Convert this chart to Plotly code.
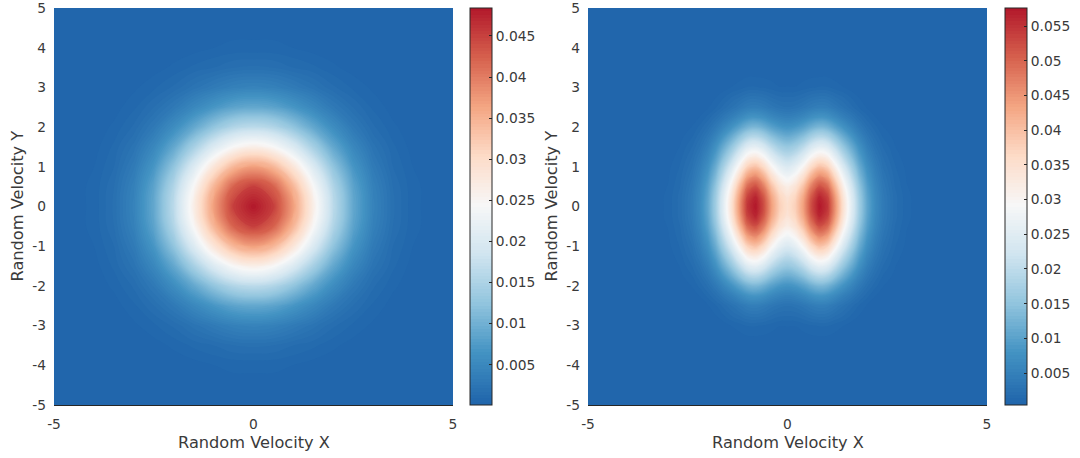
import plotly.graph_objects as go

# ---------------- data ----------------
# Left panel grid (velocity coordinates)
left_coords = [-5, -4, -3.5, -3, -2.5, -2, -1.5, -1, -0.5, 0, 0.5, 1, 1.5, 2, 2.5, 3, 3.5, 4, 5]
# rows ordered from y=-5 (bottom) to y=5 (top)
left_z = [
    [0.0001, 0.0001, 0.0001, 0.0001, 0.0001, 0.0001, 0.0001, 0.0001, 0.0001, 0.0001, 0.0001, 0.0001, 0.0001, 0.0001, 0.0001, 0.0001, 0.0001, 0.0001, 0.0001],
    [0.0001, 0.0001, 0.0001, 0.0001, 0.0001, 0.0002, 0.0003, 0.0005, 0.0006, 0.0006, 0.0006, 0.0005, 0.0003, 0.0002, 0.0001, 0.0001, 0.0001, 0.0001, 0.0001],
    [0.0001, 0.0001, 0.0001, 0.0002, 0.0003, 0.0006, 0.0010, 0.0013, 0.0017, 0.0018, 0.0017, 0.0013, 0.0010, 0.0006, 0.0003, 0.0002, 0.0001, 0.0001, 0.0001],
    [0.0001, 0.0001, 0.0002, 0.0004, 0.0008, 0.0014, 0.0023, 0.0032, 0.0040, 0.0043, 0.0040, 0.0032, 0.0023, 0.0014, 0.0008, 0.0004, 0.0002, 0.0001, 0.0001],
    [0.0001, 0.0001, 0.0003, 0.0008, 0.0017, 0.0030, 0.0049, 0.0068, 0.0084, 0.0089, 0.0084, 0.0068, 0.0049, 0.0030, 0.0017, 0.0008, 0.0003, 0.0001, 0.0001],
    [0.0001, 0.0002, 0.0006, 0.0014, 0.0030, 0.0056, 0.0089, 0.0125, 0.0154, 0.0164, 0.0154, 0.0125, 0.0089, 0.0056, 0.0030, 0.0014, 0.0006, 0.0002, 0.0001],
    [0.0001, 0.0003, 0.0010, 0.0023, 0.0049, 0.0089, 0.0144, 0.0201, 0.0246, 0.0264, 0.0246, 0.0201, 0.0144, 0.0089, 0.0049, 0.0023, 0.0010, 0.0003, 0.0001],
    [0.0001, 0.0005, 0.0013, 0.0032, 0.0068, 0.0125, 0.0201, 0.0282, 0.0345, 0.0369, 0.0345, 0.0282, 0.0201, 0.0125, 0.0068, 0.0032, 0.0013, 0.0005, 0.0001],
    [0.0001, 0.0006, 0.0017, 0.0040, 0.0084, 0.0154, 0.0246, 0.0345, 0.0423, 0.0452, 0.0423, 0.0345, 0.0246, 0.0154, 0.0084, 0.0040, 0.0017, 0.0006, 0.0001],
    [0.0001, 0.0006, 0.0018, 0.0043, 0.0089, 0.0164, 0.0264, 0.0369, 0.0452, 0.0484, 0.0452, 0.0369, 0.0264, 0.0164, 0.0089, 0.0043, 0.0018, 0.0006, 0.0001],
    [0.0001, 0.0006, 0.0017, 0.0040, 0.0084, 0.0154, 0.0246, 0.0345, 0.0423, 0.0452, 0.0423, 0.0345, 0.0246, 0.0154, 0.0084, 0.0040, 0.0017, 0.0006, 0.0001],
    [0.0001, 0.0005, 0.0013, 0.0032, 0.0068, 0.0125, 0.0201, 0.0282, 0.0345, 0.0369, 0.0345, 0.0282, 0.0201, 0.0125, 0.0068, 0.0032, 0.0013, 0.0005, 0.0001],
    [0.0001, 0.0003, 0.0010, 0.0023, 0.0049, 0.0089, 0.0144, 0.0201, 0.0246, 0.0264, 0.0246, 0.0201, 0.0144, 0.0089, 0.0049, 0.0023, 0.0010, 0.0003, 0.0001],
    [0.0001, 0.0002, 0.0006, 0.0014, 0.0030, 0.0056, 0.0089, 0.0125, 0.0154, 0.0164, 0.0154, 0.0125, 0.0089, 0.0056, 0.0030, 0.0014, 0.0006, 0.0002, 0.0001],
    [0.0001, 0.0001, 0.0003, 0.0008, 0.0017, 0.0030, 0.0049, 0.0068, 0.0084, 0.0089, 0.0084, 0.0068, 0.0049, 0.0030, 0.0017, 0.0008, 0.0003, 0.0001, 0.0001],
    [0.0001, 0.0001, 0.0002, 0.0004, 0.0008, 0.0014, 0.0023, 0.0032, 0.0040, 0.0043, 0.0040, 0.0032, 0.0023, 0.0014, 0.0008, 0.0004, 0.0002, 0.0001, 0.0001],
    [0.0001, 0.0001, 0.0001, 0.0002, 0.0003, 0.0006, 0.0010, 0.0013, 0.0017, 0.0018, 0.0017, 0.0013, 0.0010, 0.0006, 0.0003, 0.0002, 0.0001, 0.0001, 0.0001],
    [0.0001, 0.0001, 0.0001, 0.0001, 0.0001, 0.0002, 0.0003, 0.0005, 0.0006, 0.0006, 0.0006, 0.0005, 0.0003, 0.0002, 0.0001, 0.0001, 0.0001, 0.0001, 0.0001],
    [0.0001, 0.0001, 0.0001, 0.0001, 0.0001, 0.0001, 0.0001, 0.0001, 0.0001, 0.0001, 0.0001, 0.0001, 0.0001, 0.0001, 0.0001, 0.0001, 0.0001, 0.0001, 0.0001],
]

# Right panel grid
right_x = [-5, -4, -3.5, -3, -2.7, -2.4, -2.2, -2, -1.8, -1.6, -1.4, -1.2, -1, -0.8, -0.6, -0.4, -0.2, 0,
           0.2, 0.4, 0.6, 0.8, 1, 1.2, 1.4, 1.6, 1.8, 2, 2.2, 2.4, 2.7, 3, 3.5, 4, 5]
right_y = [-5, -4, -3.5, -3, -2.5, -2.25, -2, -1.75, -1.5, -1.25, -1, -0.75, -0.5, -0.25, 0,
           0.25, 0.5, 0.75, 1, 1.25, 1.5, 1.75, 2, 2.25, 2.5, 3, 3.5, 4, 5]
right_z = [
    [0.0004, 0.0004, 0.0004, 0.0004, 0.0004, 0.0004, 0.0004, 0.0004, 0.0004, 0.0004, 0.0004, 0.0004, 0.0004, 0.0004, 0.0004, 0.0004, 0.0004, 0.0004, 0.0004, 0.0004, 0.0004, 0.0004, 0.0004, 0.0004, 0.0004, 0.0004, 0.0004, 0.0004, 0.0004, 0.0004, 0.0004, 0.0004, 0.0004, 0.0004, 0.0004],
    [0.0004, 0.0004, 0.0004, 0.0004, 0.0004, 0.0004, 0.0004, 0.0004, 0.0004, 0.0004, 0.0004, 0.0004, 0.0004, 0.0004, 0.0004, 0.0004, 0.0004, 0.0004, 0.0004, 0.0004, 0.0004, 0.0004, 0.0004, 0.0004, 0.0004, 0.0004, 0.0004, 0.0004, 0.0004, 0.0004, 0.0004, 0.0004, 0.0004, 0.0004, 0.0004],
    [0.0004, 0.0004, 0.0004, 0.0004, 0.0004, 0.0004, 0.0004, 0.0004, 0.0004, 0.0004, 0.0004, 0.0004, 0.0004, 0.0004, 0.0004, 0.0004, 0.0004, 0.0004, 0.0004, 0.0004, 0.0004, 0.0004, 0.0004, 0.0004, 0.0004, 0.0004, 0.0004, 0.0004, 0.0004, 0.0004, 0.0004, 0.0004, 0.0004, 0.0004, 0.0004],
    [0.0004, 0.0004, 0.0004, 0.0004, 0.0004, 0.0004, 0.0004, 0.0004, 0.0004, 0.0006, 0.0009, 0.0011, 0.0014, 0.0014, 0.0013, 0.0011, 0.0009, 0.0009, 0.0009, 0.0011, 0.0013, 0.0014, 0.0014, 0.0011, 0.0009, 0.0006, 0.0004, 0.0004, 0.0004, 0.0004, 0.0004, 0.0004, 0.0004, 0.0004, 0.0004],
    [0.0004, 0.0004, 0.0004, 0.0004, 0.0004, 0.0004, 0.0005, 0.0008, 0.0013, 0.0020, 0.0028, 0.0036, 0.0044, 0.0046, 0.0042, 0.0035, 0.0030, 0.0028, 0.0030, 0.0035, 0.0042, 0.0046, 0.0044, 0.0036, 0.0028, 0.0020, 0.0013, 0.0008, 0.0005, 0.0004, 0.0004, 0.0004, 0.0004, 0.0004, 0.0004],
    [0.0004, 0.0004, 0.0004, 0.0004, 0.0004, 0.0006, 0.0009, 0.0015, 0.0024, 0.0036, 0.0048, 0.0063, 0.0077, 0.0081, 0.0074, 0.0062, 0.0053, 0.0049, 0.0053, 0.0062, 0.0074, 0.0081, 0.0077, 0.0063, 0.0048, 0.0036, 0.0024, 0.0015, 0.0009, 0.0006, 0.0004, 0.0004, 0.0004, 0.0004, 0.0004],
    [0.0004, 0.0004, 0.0004, 0.0004, 0.0005, 0.0009, 0.0015, 0.0024, 0.0038, 0.0057, 0.0078, 0.0101, 0.0123, 0.0130, 0.0118, 0.0099, 0.0085, 0.0079, 0.0085, 0.0099, 0.0118, 0.0130, 0.0123, 0.0101, 0.0078, 0.0057, 0.0038, 0.0024, 0.0015, 0.0009, 0.0005, 0.0004, 0.0004, 0.0004, 0.0004],
    [0.0004, 0.0004, 0.0004, 0.0004, 0.0007, 0.0013, 0.0022, 0.0035, 0.0056, 0.0085, 0.0116, 0.0151, 0.0184, 0.0193, 0.0176, 0.0147, 0.0127, 0.0117, 0.0127, 0.0147, 0.0176, 0.0193, 0.0184, 0.0151, 0.0116, 0.0085, 0.0056, 0.0035, 0.0022, 0.0013, 0.0007, 0.0004, 0.0004, 0.0004, 0.0004],
    [0.0004, 0.0004, 0.0004, 0.0005, 0.0009, 0.0018, 0.0029, 0.0047, 0.0076, 0.0115, 0.0155, 0.0203, 0.0247, 0.0259, 0.0236, 0.0198, 0.0170, 0.0158, 0.0170, 0.0198, 0.0236, 0.0259, 0.0247, 0.0203, 0.0155, 0.0115, 0.0076, 0.0047, 0.0029, 0.0018, 0.0009, 0.0005, 0.0004, 0.0004, 0.0004],
    [0.0004, 0.0004, 0.0004, 0.0006, 0.0011, 0.0023, 0.0037, 0.0059, 0.0095, 0.0144, 0.0195, 0.0254, 0.0310, 0.0325, 0.0297, 0.0249, 0.0214, 0.0198, 0.0214, 0.0249, 0.0297, 0.0325, 0.0310, 0.0254, 0.0195, 0.0144, 0.0095, 0.0059, 0.0037, 0.0023, 0.0011, 0.0006, 0.0004, 0.0004, 0.0004],
    [0.0004, 0.0004, 0.0004, 0.0007, 0.0014, 0.0027, 0.0045, 0.0072, 0.0115, 0.0175, 0.0236, 0.0308, 0.0375, 0.0395, 0.0360, 0.0301, 0.0259, 0.0240, 0.0259, 0.0301, 0.0360, 0.0395, 0.0375, 0.0308, 0.0236, 0.0175, 0.0115, 0.0072, 0.0045, 0.0027, 0.0014, 0.0007, 0.0004, 0.0004, 0.0004],
    [0.0004, 0.0004, 0.0004, 0.0008, 0.0016, 0.0032, 0.0052, 0.0084, 0.0134, 0.0204, 0.0276, 0.0360, 0.0438, 0.0461, 0.0420, 0.0352, 0.0302, 0.0280, 0.0302, 0.0352, 0.0420, 0.0461, 0.0438, 0.0360, 0.0276, 0.0204, 0.0134, 0.0084, 0.0052, 0.0032, 0.0016, 0.0008, 0.0004, 0.0004, 0.0004],
    [0.0004, 0.0004, 0.0004, 0.0009, 0.0018, 0.0036, 0.0059, 0.0095, 0.0152, 0.0231, 0.0312, 0.0407, 0.0496, 0.0521, 0.0475, 0.0398, 0.0342, 0.0317, 0.0342, 0.0398, 0.0475, 0.0521, 0.0496, 0.0407, 0.0312, 0.0231, 0.0152, 0.0095, 0.0059, 0.0036, 0.0018, 0.0009, 0.0004, 0.0004, 0.0004],
    [0.0004, 0.0004, 0.0004, 0.0010, 0.0020, 0.0039, 0.0063, 0.0102, 0.0164, 0.0249, 0.0336, 0.0439, 0.0534, 0.0562, 0.0512, 0.0429, 0.0369, 0.0341, 0.0369, 0.0429, 0.0512, 0.0562, 0.0534, 0.0439, 0.0336, 0.0249, 0.0164, 0.0102, 0.0063, 0.0039, 0.0020, 0.0010, 0.0004, 0.0004, 0.0004],
    [0.0004, 0.0004, 0.0004, 0.0010, 0.0020, 0.0040, 0.0065, 0.0105, 0.0168, 0.0255, 0.0345, 0.0450, 0.0548, 0.0576, 0.0525, 0.0440, 0.0378, 0.0350, 0.0378, 0.0440, 0.0525, 0.0576, 0.0548, 0.0450, 0.0345, 0.0255, 0.0168, 0.0105, 0.0065, 0.0040, 0.0020, 0.0010, 0.0004, 0.0004, 0.0004],
    [0.0004, 0.0004, 0.0004, 0.0010, 0.0020, 0.0039, 0.0063, 0.0102, 0.0164, 0.0249, 0.0336, 0.0439, 0.0534, 0.0562, 0.0512, 0.0429, 0.0369, 0.0341, 0.0369, 0.0429, 0.0512, 0.0562, 0.0534, 0.0439, 0.0336, 0.0249, 0.0164, 0.0102, 0.0063, 0.0039, 0.0020, 0.0010, 0.0004, 0.0004, 0.0004],
    [0.0004, 0.0004, 0.0004, 0.0009, 0.0018, 0.0036, 0.0059, 0.0095, 0.0152, 0.0231, 0.0312, 0.0407, 0.0496, 0.0521, 0.0475, 0.0398, 0.0342, 0.0317, 0.0342, 0.0398, 0.0475, 0.0521, 0.0496, 0.0407, 0.0312, 0.0231, 0.0152, 0.0095, 0.0059, 0.0036, 0.0018, 0.0009, 0.0004, 0.0004, 0.0004],
    [0.0004, 0.0004, 0.0004, 0.0008, 0.0016, 0.0032, 0.0052, 0.0084, 0.0134, 0.0204, 0.0276, 0.0360, 0.0438, 0.0461, 0.0420, 0.0352, 0.0302, 0.0280, 0.0302, 0.0352, 0.0420, 0.0461, 0.0438, 0.0360, 0.0276, 0.0204, 0.0134, 0.0084, 0.0052, 0.0032, 0.0016, 0.0008, 0.0004, 0.0004, 0.0004],
    [0.0004, 0.0004, 0.0004, 0.0007, 0.0014, 0.0027, 0.0045, 0.0072, 0.0115, 0.0175, 0.0236, 0.0308, 0.0375, 0.0395, 0.0360, 0.0301, 0.0259, 0.0240, 0.0259, 0.0301, 0.0360, 0.0395, 0.0375, 0.0308, 0.0236, 0.0175, 0.0115, 0.0072, 0.0045, 0.0027, 0.0014, 0.0007, 0.0004, 0.0004, 0.0004],
    [0.0004, 0.0004, 0.0004, 0.0006, 0.0011, 0.0023, 0.0037, 0.0059, 0.0095, 0.0144, 0.0195, 0.0254, 0.0310, 0.0325, 0.0297, 0.0249, 0.0214, 0.0198, 0.0214, 0.0249, 0.0297, 0.0325, 0.0310, 0.0254, 0.0195, 0.0144, 0.0095, 0.0059, 0.0037, 0.0023, 0.0011, 0.0006, 0.0004, 0.0004, 0.0004],
    [0.0004, 0.0004, 0.0004, 0.0005, 0.0009, 0.0018, 0.0029, 0.0047, 0.0076, 0.0115, 0.0155, 0.0203, 0.0247, 0.0259, 0.0236, 0.0198, 0.0170, 0.0158, 0.0170, 0.0198, 0.0236, 0.0259, 0.0247, 0.0203, 0.0155, 0.0115, 0.0076, 0.0047, 0.0029, 0.0018, 0.0009, 0.0005, 0.0004, 0.0004, 0.0004],
    [0.0004, 0.0004, 0.0004, 0.0004, 0.0007, 0.0013, 0.0022, 0.0035, 0.0056, 0.0085, 0.0116, 0.0151, 0.0184, 0.0193, 0.0176, 0.0147, 0.0127, 0.0117, 0.0127, 0.0147, 0.0176, 0.0193, 0.0184, 0.0151, 0.0116, 0.0085, 0.0056, 0.0035, 0.0022, 0.0013, 0.0007, 0.0004, 0.0004, 0.0004, 0.0004],
    [0.0004, 0.0004, 0.0004, 0.0004, 0.0005, 0.0009, 0.0015, 0.0024, 0.0038, 0.0057, 0.0078, 0.0101, 0.0123, 0.0130, 0.0118, 0.0099, 0.0085, 0.0079, 0.0085, 0.0099, 0.0118, 0.0130, 0.0123, 0.0101, 0.0078, 0.0057, 0.0038, 0.0024, 0.0015, 0.0009, 0.0005, 0.0004, 0.0004, 0.0004, 0.0004],
    [0.0004, 0.0004, 0.0004, 0.0004, 0.0004, 0.0006, 0.0009, 0.0015, 0.0024, 0.0036, 0.0048, 0.0063, 0.0077, 0.0081, 0.0074, 0.0062, 0.0053, 0.0049, 0.0053, 0.0062, 0.0074, 0.0081, 0.0077, 0.0063, 0.0048, 0.0036, 0.0024, 0.0015, 0.0009, 0.0006, 0.0004, 0.0004, 0.0004, 0.0004, 0.0004],
    [0.0004, 0.0004, 0.0004, 0.0004, 0.0004, 0.0004, 0.0005, 0.0008, 0.0013, 0.0020, 0.0028, 0.0036, 0.0044, 0.0046, 0.0042, 0.0035, 0.0030, 0.0028, 0.0030, 0.0035, 0.0042, 0.0046, 0.0044, 0.0036, 0.0028, 0.0020, 0.0013, 0.0008, 0.0005, 0.0004, 0.0004, 0.0004, 0.0004, 0.0004, 0.0004],
    [0.0004, 0.0004, 0.0004, 0.0004, 0.0004, 0.0004, 0.0004, 0.0004, 0.0004, 0.0006, 0.0009, 0.0011, 0.0014, 0.0014, 0.0013, 0.0011, 0.0009, 0.0009, 0.0009, 0.0011, 0.0013, 0.0014, 0.0014, 0.0011, 0.0009, 0.0006, 0.0004, 0.0004, 0.0004, 0.0004, 0.0004, 0.0004, 0.0004, 0.0004, 0.0004],
    [0.0004, 0.0004, 0.0004, 0.0004, 0.0004, 0.0004, 0.0004, 0.0004, 0.0004, 0.0004, 0.0004, 0.0004, 0.0004, 0.0004, 0.0004, 0.0004, 0.0004, 0.0004, 0.0004, 0.0004, 0.0004, 0.0004, 0.0004, 0.0004, 0.0004, 0.0004, 0.0004, 0.0004, 0.0004, 0.0004, 0.0004, 0.0004, 0.0004, 0.0004, 0.0004],
    [0.0004, 0.0004, 0.0004, 0.0004, 0.0004, 0.0004, 0.0004, 0.0004, 0.0004, 0.0004, 0.0004, 0.0004, 0.0004, 0.0004, 0.0004, 0.0004, 0.0004, 0.0004, 0.0004, 0.0004, 0.0004, 0.0004, 0.0004, 0.0004, 0.0004, 0.0004, 0.0004, 0.0004, 0.0004, 0.0004, 0.0004, 0.0004, 0.0004, 0.0004, 0.0004],
    [0.0004, 0.0004, 0.0004, 0.0004, 0.0004, 0.0004, 0.0004, 0.0004, 0.0004, 0.0004, 0.0004, 0.0004, 0.0004, 0.0004, 0.0004, 0.0004, 0.0004, 0.0004, 0.0004, 0.0004, 0.0004, 0.0004, 0.0004, 0.0004, 0.0004, 0.0004, 0.0004, 0.0004, 0.0004, 0.0004, 0.0004, 0.0004, 0.0004, 0.0004, 0.0004],
]

# Axis ticks
x_tickvals = [-5, 0, 5]
x_ticktext = ["-5", "0", "5"]
y_tickvals = [-5, -4, -3, -2, -1, 0, 1, 2, 3, 4, 5]
y_ticktext = ["-5", "-4", "-3", "-2", "-1", "0", "1", "2", "3", "4", "5"]

left_cb_vals = [0.005, 0.01, 0.015, 0.02, 0.025, 0.03, 0.035, 0.04, 0.045]
left_cb_text = ["0.005", "0.01", "0.015", "0.02", "0.025", "0.03", "0.035", "0.04", "0.045"]
right_cb_vals = [0.005, 0.01, 0.015, 0.02, 0.025, 0.03, 0.035, 0.04, 0.045, 0.05, 0.055]
right_cb_text = ["0.005", "0.01", "0.015", "0.02", "0.025", "0.03", "0.035", "0.04", "0.045", "0.05", "0.055"]
left_range = [0.0001, 0.0484]
right_range = [0.0004, 0.0576]

x_title = "Random Velocity X"
y_title = "Random Velocity Y"

# ---------------- styling ----------------
W, H = 1080, 458
FONT = "DejaVu Sans"
TXT = "#3a3a3a"
rdbu = [
    [0.0, "#2166ac"], [0.125, "#4393c3"], [0.25, "#92c5de"], [0.375, "#d1e5f0"],
    [0.5, "#f7f7f7"], [0.625, "#fddbc7"], [0.75, "#f4a582"], [0.875, "#d6604d"],
    [1.0, "#b2182b"],
]
N_LEVELS = 120

top_px, bot_px = 8, 405
y_dom = [(H - bot_px) / H, (H - top_px) / H]
lx = [54, 453]
rx = [588, 987]


def cbar(x_left, vals, text):
    return dict(
        thickness=22, thicknessmode="pixels",
        len=(bot_px - top_px) / H, lenmode="fraction",
        x=x_left / W, xanchor="left", xpad=0,
        y=y_dom[1], yanchor="top", ypad=0,
        outlinewidth=1, outlinecolor="#262626",
        ticks="inside", ticklen=3, tickcolor="#262626",
        tickvals=vals, ticktext=text,
        tickfont=dict(family=FONT, size=13.8, color=TXT),
    )


def contour_trace(x, y, z, rng, cb_x, vals, text, xa, ya):
    step = (rng[1] - rng[0]) / N_LEVELS
    return go.Contour(
        x=x, y=y, z=z, colorscale=rdbu, zmin=rng[0], zmax=rng[1], zauto=False,
        autocontour=False,
        contours=dict(start=rng[0] + step, end=rng[1], size=step, coloring="fill", showlines=False),
        line=dict(width=0, smoothing=1.3),
        colorbar=cbar(cb_x, vals, text),
        xaxis=xa, yaxis=ya, hoverinfo="skip",
    )


fig = go.Figure()
fig.add_trace(contour_trace(left_coords, left_coords, left_z, left_range, 470,
                            left_cb_vals, left_cb_text, "x", "y"))
fig.add_trace(contour_trace(right_x, right_y, right_z, right_range, 1005,
                            right_cb_vals, right_cb_text, "x2", "y2"))

ax_common = dict(range=[-5, 5], showgrid=False, zeroline=False, ticks="", automargin=False,
                 tickfont=dict(family=FONT, size=13.8, color=TXT))
fig.update_layout(
    width=W, height=H,
    margin=dict(l=0, r=0, t=0, b=0, autoexpand=False),
    paper_bgcolor="white", plot_bgcolor="white",
    showlegend=False,
    xaxis=dict(domain=[lx[0] / W, lx[1] / W], anchor="y", tickvals=x_tickvals, ticktext=x_ticktext,
               showline=True, linecolor="#262626", linewidth=1, ticklabelstandoff=6, **ax_common),
    yaxis=dict(domain=y_dom, anchor="x", tickvals=y_tickvals, ticktext=y_ticktext,
               showline=False, ticklabelstandoff=7, ticklabeloverflow="allow", **ax_common),
    xaxis2=dict(domain=[rx[0] / W, rx[1] / W], anchor="y2", tickvals=x_tickvals, ticktext=x_ticktext,
                showline=True, linecolor="#262626", linewidth=1, ticklabelstandoff=6, **ax_common),
    yaxis2=dict(domain=y_dom, anchor="x2", tickvals=y_tickvals, ticktext=y_ticktext,
                showline=False, ticklabelstandoff=7, ticklabeloverflow="allow", **ax_common),
)

title_font = dict(family=FONT, size=16.2, color=TXT)
cy = (H - (top_px + bot_px) / 2) / H
fig.add_annotation(text=x_title, x=(lx[0] + lx[1]) / 2 / W, y=(H - 442) / H, xref="paper", yref="paper",
                   showarrow=False, font=title_font, xanchor="center", yanchor="middle")
fig.add_annotation(text=x_title, x=(rx[0] + rx[1]) / 2 / W, y=(H - 442) / H, xref="paper", yref="paper",
                   showarrow=False, font=title_font, xanchor="center", yanchor="middle")
fig.add_annotation(text=y_title, x=17 / W, y=cy, xref="paper", yref="paper", textangle=-90,
                   showarrow=False, font=title_font, xanchor="center", yanchor="middle")
fig.add_annotation(text=y_title, x=551 / W, y=cy, xref="paper", yref="paper", textangle=-90,
                   showarrow=False, font=title_font, xanchor="center", yanchor="middle")

fig.write_html("out.html")
